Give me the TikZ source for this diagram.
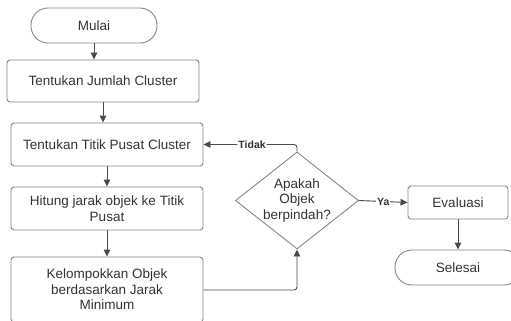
\documentclass[tikz,border=0pt]{standalone}
\usepackage{fontspec}
\setmainfont{Liberation Sans}
\usetikzlibrary{arrows.meta,shapes.geometric}
\definecolor{boxline}{HTML}{858585}
\definecolor{arrline}{HTML}{4A4A4A}
\definecolor{txt}{HTML}{333333}

\begin{document}
\begin{tikzpicture}[x=1pt, y=-1pt, line width=0.9pt,
    every node/.style={text=txt, font=\fontsize{13.5}{15.5}\selectfont},
    proses/.style={draw=boxline, rounded corners=3, minimum width=192, align=center, inner sep=0},
    terminal/.style={draw=boxline, rounded corners=17, minimum width=126, minimum height=35, inner sep=0},
    keputusan/.style={draw=boxline, diamond, aspect=1.27, minimum width=123, minimum height=97, inner sep=-2pt, align=center},
    alur/.style={draw=arrline, -{Triangle[length=7pt,width=6.5pt]}},
    ket/.style={fill=white, inner sep=1pt, font=\fontsize{10.5}{12}\bfseries\selectfont}]
  \useasboundingbox (0,0) rectangle (511,321);
  \clip (0,0) rectangle (511,321);

  \node[terminal] (mulai) at (94, 25.5) {Mulai};
  \node[proses, minimum height=42] (jumlah) at (103, 81) {Tentukan Jumlah Cluster};
  \node[proses, minimum height=43] (pusat) at (107, 144.5) {Tentukan Titik Pusat Cluster};
  \node[proses, minimum height=43] (hitung) at (107, 208.5) {Hitung jarak objek ke Titik\\Pusat};
  \node[proses, minimum height=65] (kelompok) at (107, 289.5) {Kelompokkan Objek\\berdasarkan Jarak\\Minimum};

  \node[keputusan] (pindah) at (297, 200.5) {Apakah\\Objek\\berpindah?};
  \node[proses, minimum width=100, minimum height=33] (evaluasi) at (458, 202.5) {Evaluasi};
  \node[terminal] (selesai) at (458, 267.5) {Selesai};

  \draw[alur] (mulai) -- (mulai |- jumlah.north);
  \draw[alur] (jumlah) -- (jumlah |- pusat.north);
  \draw[alur] (pusat.south) -- (hitung.north);
  \draw[alur] (hitung) -- (kelompok);
  \draw[alur, rounded corners=3] (kelompok.east |- 0,290) -| (pindah.south);
  \draw[alur, rounded corners=3] (pindah.north) |- node[ket, pos=0.74] {Tidak} (pusat.east);
  \draw[alur] (pindah.east) -- node[ket] {Ya} (evaluasi.west);
  \draw[alur] (evaluasi) -- (selesai);
\end{tikzpicture}
\end{document}
